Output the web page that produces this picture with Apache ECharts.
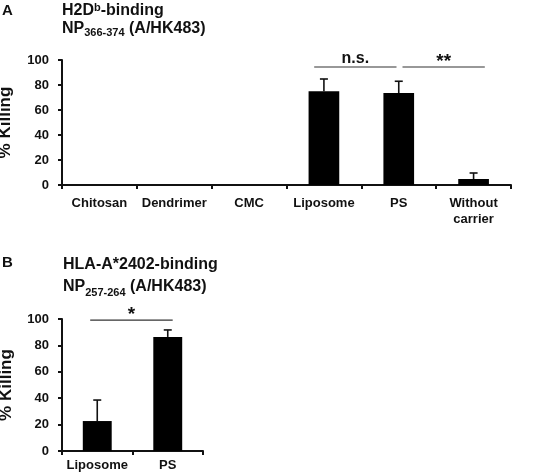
<!DOCTYPE html>
<html>
<head>
<meta charset="utf-8">
<script src="https://cdn.jsdelivr.net/npm/echarts@6/dist/echarts.min.js"></script>
<style>
  html, body { margin: 0; padding: 0; background: #fff; }
  #chart { width: 541px; height: 472px; }
</style>
</head>
<body>
<div id="chart"></div>
<script>
// panel A data
var catsA = ['Chitosan', 'Dendrimer', 'CMC', 'Liposome', 'PS', 'Without\ncarrier']
var killA = [0, 0, 0, 75, 73.6, 4.8]
var errA = [null, null, null, 9.8, 9.4, 4.8]
// significance brackets: [from, to, level, text]
var sigA = [[2.87, 3.97, 94.4, 'n.s.'], [4.05, 5.15, 94.4, '**']]

// panel B data
var catsB = ['Liposome', 'PS']
var killB = [22.7, 86.4]
var errB = [15.9, 5.3]
var sigB = [[-0.1, 1.07, 99.2, '*']]

var FONT = '"Liberation Sans", Arial, sans-serif'
var INK = '#111'

function errData(vals, errs) {
  var out = []
  for (var i = 0; i < vals.length; i++) {
    if (errs[i] != null) out.push([i, vals[i], vals[i] + errs[i]])
  }
  return out
}

function renderErr(params, api) {
  var base = api.coord([api.value(0), api.value(1)])
  var top = api.coord([api.value(0), api.value(2)])
  var cap = 4
  return {
    type: 'group',
    children: [
      { type: 'line', shape: { x1: base[0], y1: base[1], x2: top[0], y2: top[1] },
        style: { stroke: INK, lineWidth: 1.6 } },
      { type: 'line', shape: { x1: top[0] - cap, y1: top[1], x2: top[0] + cap, y2: top[1] },
        style: { stroke: INK, lineWidth: 1.6 } }
    ]
  }
}

function renderSig(params, api) {
  var from = api.value(0)
  var to = api.value(1)
  var label = api.value(3)
  var bw = api.size([1, 0])[0]
  var f0 = Math.floor(from)
  var t0 = Math.floor(to)
  var p1 = api.coord([f0, api.value(2)])
  var p2 = api.coord([t0, api.value(2)])
  var x1 = p1[0] + (from - f0) * bw
  var x2 = p2[0] + (to - t0) * bw
  var y = p1[1]
  // asterisks sit high in the em box, so push them down a bit
  var star = label.indexOf('*') >= 0
  return {
    type: 'group',
    children: [
      { type: 'line', shape: { x1: x1, y1: y, x2: x2, y2: y },
        style: { stroke: '#333', lineWidth: 1.2 } },
      { type: 'text', x: (x1 + x2) / 2, y: star ? y + 4 : y - 0.5,
        style: { text: label, font: 'bold ' + (star ? 19 : 16) + 'px ' + FONT, fill: INK,
          align: 'center', verticalAlign: 'bottom' } }
    ]
  }
}

function yAxis(idx, nameGap) {
  return {
    gridIndex: idx,
    type: 'value',
    min: 0,
    max: 100,
    interval: 20,
    name: '% Killing',
    nameLocation: 'middle',
    nameGap: nameGap,
    nameTextStyle: { fontFamily: FONT, fontWeight: 'bold', fontSize: 17, color: INK },
    splitLine: { show: false },
    axisLine: { show: true, lineStyle: { color: INK, width: 2 } },
    axisTick: { show: true, length: 4, lineStyle: { color: INK, width: 2 } },
    axisLabel: { fontFamily: FONT, fontWeight: 'bold', fontSize: 13, color: INK, margin: 13 }
  }
}

function xAxis(idx, data, margin) {
  return {
    gridIndex: idx,
    type: 'category',
    data: data,
    axisLine: { show: true, lineStyle: { color: INK, width: 2 } },
    axisTick: { show: true, length: 4, lineStyle: { color: INK, width: 2 } },
    axisLabel: { fontFamily: FONT, fontWeight: 'bold', fontSize: 13, color: INK,
      margin: margin, lineHeight: 16, interval: 0 }
  }
}

var chart = echarts.init(document.getElementById('chart'))
chart.setOption({
  animation: false,
  backgroundColor: '#fff',
  title: [
    { text: 'A', left: -3, top: -2, textStyle: { fontFamily: FONT, fontWeight: 'bold', fontSize: 15, color: INK } },
    {
      text: '{b|H2D}{sup|b}{b|-binding}\n{b|NP}{sub|366-374}{b| (A/HK483)}',
      left: 57, top: -3,
      textStyle: {
        rich: {
          b: { fontFamily: FONT, fontWeight: 'bold', fontSize: 16, color: INK, lineHeight: 18 },
          sup: { fontFamily: FONT, fontWeight: 'bold', fontSize: 11, color: INK, verticalAlign: 'top', lineHeight: 18, padding: [0, 0, 6, 0] },
          sub: { fontFamily: FONT, fontWeight: 'bold', fontSize: 11, color: INK, verticalAlign: 'bottom', lineHeight: 18, padding: [6, 0, 0, 0] }
        }
      }
    },
    { text: 'B', left: -3, top: 250, textStyle: { fontFamily: FONT, fontWeight: 'bold', fontSize: 15, color: INK } },
    {
      text: '{b|HLA-A*2402-binding}\n{b|NP}{sub|257-264}{b| (A/HK483)}',
      left: 58, top: 249,
      textStyle: {
        rich: {
          b: { fontFamily: FONT, fontWeight: 'bold', fontSize: 16, color: INK, lineHeight: 22 },
          sub: { fontFamily: FONT, fontWeight: 'bold', fontSize: 11, color: INK, verticalAlign: 'bottom', lineHeight: 22, padding: [6, 0, 0, 0] }
        }
      }
    }
  ],
  grid: [
    { left: 62, top: 60, width: 449, height: 125, outerBoundsMode: 'none' },
    { left: 62, top: 319, width: 141, height: 132, outerBoundsMode: 'none' }
  ],
  xAxis: [xAxis(0, catsA, 10), xAxis(1, catsB, 6)],
  yAxis: [yAxis(0, 48), yAxis(1, 47)],
  series: [
    { type: 'bar', xAxisIndex: 0, yAxisIndex: 0, data: killA, barWidth: '41%',
      itemStyle: { color: '#000' } },
    { type: 'custom', xAxisIndex: 0, yAxisIndex: 0, data: errData(killA, errA),
      renderItem: renderErr, z: 1 },
    { type: 'custom', xAxisIndex: 0, yAxisIndex: 0, data: sigA,
      renderItem: renderSig, clip: false },
    { type: 'bar', xAxisIndex: 1, yAxisIndex: 1, data: killB, barWidth: '41%',
      itemStyle: { color: '#000' } },
    { type: 'custom', xAxisIndex: 1, yAxisIndex: 1, data: errData(killB, errB),
      renderItem: renderErr, z: 1 },
    { type: 'custom', xAxisIndex: 1, yAxisIndex: 1, data: sigB,
      renderItem: renderSig, clip: false }
  ]
})
</script>
</body>
</html>
